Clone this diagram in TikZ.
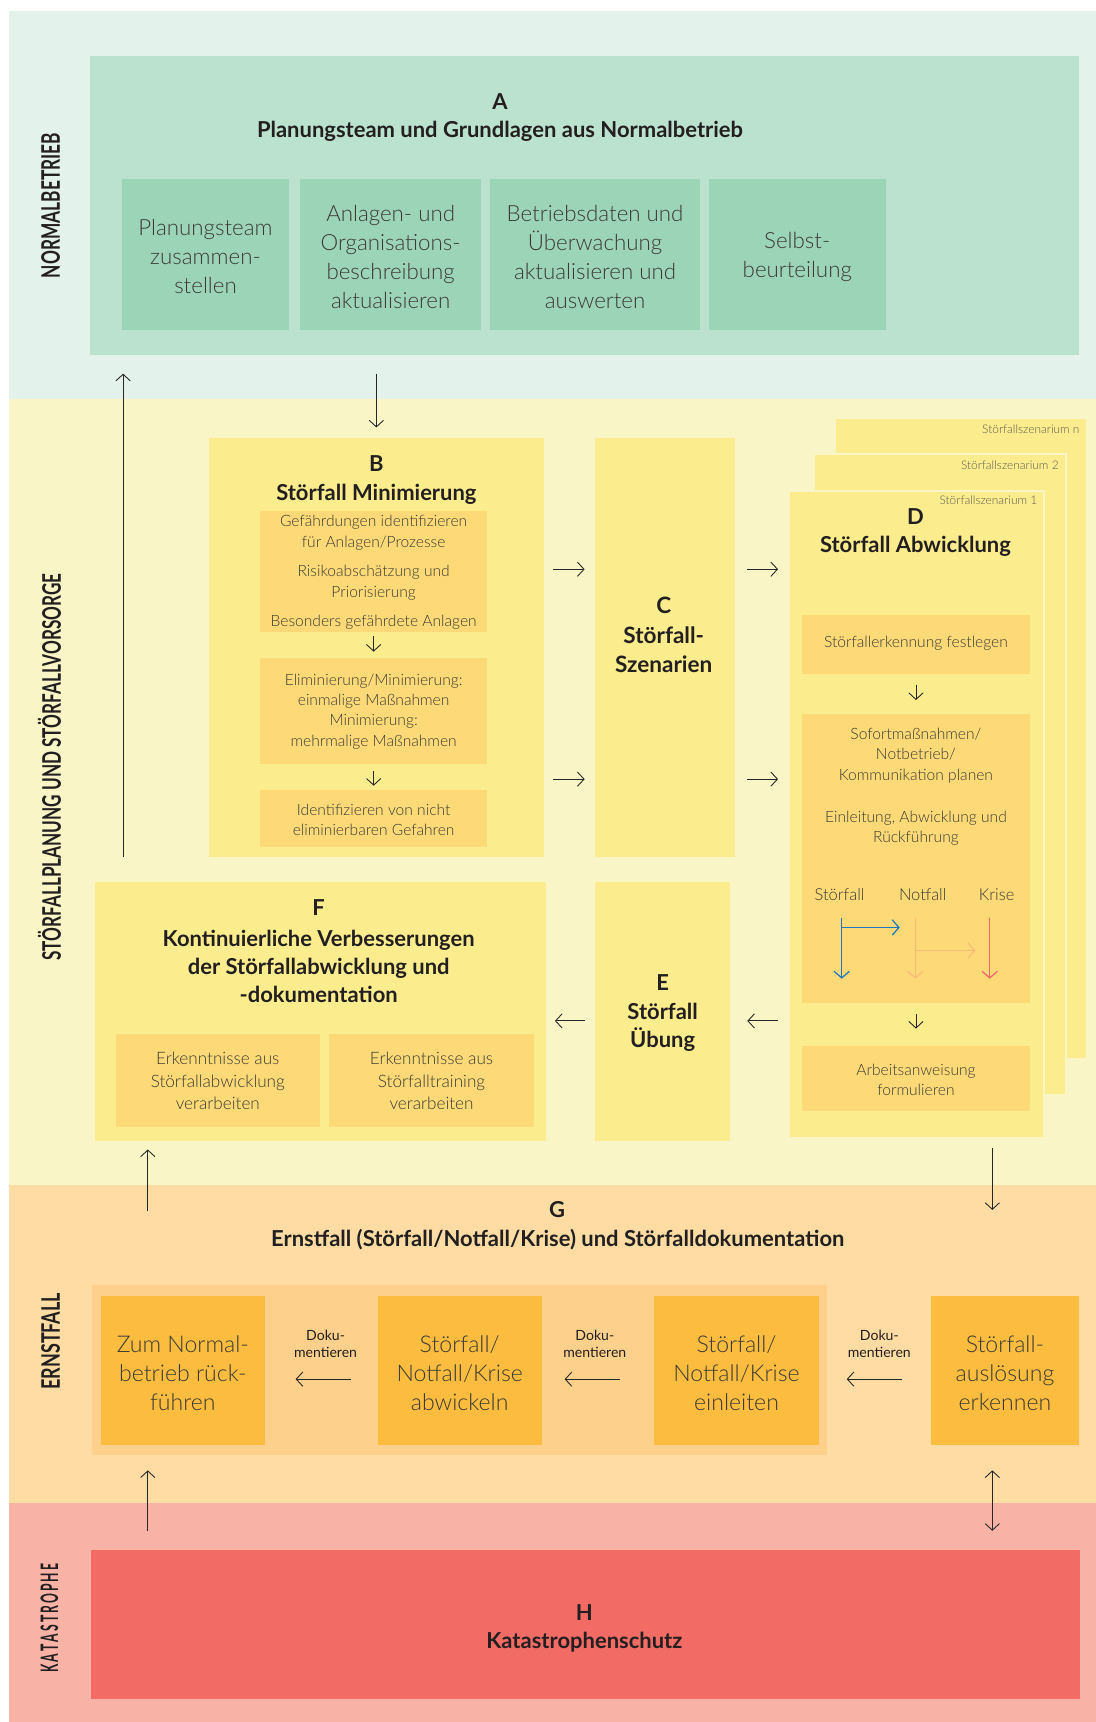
\documentclass[tikz,border=0pt]{standalone}
\usepackage{graphicx}
\usepackage{fontspec}
\IfFontExistsTF{Lato Light}{\setmainfont{Lato}[UprightFont={* Light},BoldFont={* Bold}]}{\setmainfont{Lato}}
\newfontfamily\latoreg{Lato}
\usetikzlibrary{arrows.meta,calc}
\definecolor{bgA}{HTML}{E3F2EA}
\definecolor{boxA}{HTML}{BBE2CE}
\definecolor{subA}{HTML}{9CD4B8}
\definecolor{bgB}{HTML}{FAF5C6}
\definecolor{boxB}{HTML}{FBEC8E}
\definecolor{subB}{HTML}{FDD977}
\definecolor{bgG}{HTML}{FEDCA3}
\definecolor{grpG}{HTML}{FDD18B}
\definecolor{boxG}{HTML}{FCBC40}
\definecolor{bgH}{HTML}{F9B2A6}
\definecolor{boxH}{HTML}{F26B65}
\definecolor{txt}{HTML}{3C3A33}
\definecolor{ttl}{HTML}{231F20}
\definecolor{scen}{HTML}{5E5B4E}
\definecolor{arBlue}{HTML}{1F77BF}
\definecolor{arOrange}{HTML}{FDB978}
\definecolor{arRed}{HTML}{F0666C}
\newcommand{\mkbox}[6]{\node[rbox,#6,minimum width={#4-#2},minimum height={#5-#3}] (#1) at ({(#2+#4)/2},{(#3+#5)/2}) {};}
\tikzset{
  rbox/.style={inner sep=0pt,outer sep=0pt,draw=none,rectangle},
  ttlf/.style={text=ttl,align=center,inner sep=0pt,font=\fontsize{20}{26}\selectfont\bfseries},
  side/.style={text=ttl,inner sep=0pt,rotate=90},
  tA/.style={text=txt,align=center,inner sep=0pt,font=\fontsize{20.3}{26.4}\selectfont},
  tB/.style={text=txt,align=center,inner sep=0pt,font=\fontsize{14.2}{18.5}\selectfont},
  tF/.style={text=txt,align=center,inner sep=0pt,font=\fontsize{15.6}{20.5}\selectfont},
  tDoku/.style={text=ttl,align=center,inner sep=0pt,font=\latoreg\fontsize{12.8}{15}\selectfont},
  tScen/.style={text=scen,inner sep=0pt,anchor=east,font=\fontsize{10.8}{12}\selectfont},
  arr/.style={draw=black!85,line width=0.8pt,-{Straight Barb[length=6pt,width=13pt,line width=0.8pt]}},
  darr/.style={draw=black!85,line width=0.8pt,{Straight Barb[length=6pt,width=13pt,line width=0.8pt]}-{Straight Barb[length=6pt,width=13pt,line width=0.8pt]}},
  carr/.style={line width=1.1pt,-{Straight Barb[length=6pt,width=14pt,line width=1.1pt]}},
  card/.style={rbox,fill=boxB,draw=bgB,line width=1.4pt}
}
\begin{document}
\begin{tikzpicture}[x=1pt,y=-1pt]
\useasboundingbox (0,0) rectangle (997,1567);
% bands
\fill[bgA] (8,10) rectangle (997,363);
\fill[bgB] (8,363) rectangle (997,1078);
\fill[bgG] (8,1078) rectangle (997,1368);
\fill[bgH] (8,1368) rectangle (997,1567);
% side labels
\node[side] (lblN) at (46,187) {\resizebox{132pt}{17pt}{\bfseries NORMALBETRIEB}};
\node[side] (lblV) at (45,698) {\resizebox{352pt}{21pt}{\bfseries STÖRFALLPLANUNG UND STÖRFALLVORSORGE}};
\node[side] (lblE) at (46,1220.5) {\resizebox{88pt}{17pt}{\bfseries ERNSTFALL}};
\node[side] (lblK) at (45,1472.5) {\resizebox{99pt}{16pt}{\bfseries K\,A\,T\,A\,S\,T\,R\,O\,P\,H\,E}};
% A
\mkbox{A}{82}{51}{982}{323}{fill=boxA}
\node[ttlf] (Aletter) at (455,92.5) {A};
\node[ttlf] (Atitle) at (455,119.5) {Planungsteam und Grundlagen aus Normalbetrieb};
\mkbox{A1}{111}{163}{263}{300}{fill=subA}
\mkbox{A2}{273}{163}{438}{300}{fill=subA}
\mkbox{A3}{446}{163}{637}{300}{fill=subA}
\mkbox{A4}{645}{163}{806}{300}{fill=subA}
\node[tA] (A1t) at (187,233.5) {Planungsteam\\zusammen-\\stellen};
\node[tA] (A2t) at (355.5,233.5) {Anlagen- und\\Organisations-\\beschreibung\\aktualisieren};
\node[tA] (A3t) at (541.5,233.5) {Betriebsdaten und\\Überwachung\\aktualisieren und\\auswerten};
\node[tA] (A4t) at (725.5,233.5) {Selbst-\\beurteilung};
% B
\mkbox{B}{190}{399}{495}{780}{fill=boxB}
\node[ttlf] (Bletter) at (342.5,421.5) {B};
\node[ttlf] (Btitle) at (342.5,449.4) {Störfall Minimierung};
\mkbox{B1}{237}{465}{443}{575}{fill=subB}
\mkbox{B2}{237}{599}{443}{695}{fill=subB}
\mkbox{B3}{237}{719}{443}{771}{fill=subB}
\node[tB] (B1t) at (340,521) {Gefährdungen identifizieren\\für Anlagen/Prozesse\\[8.5pt]Risikoabschätzung und\\Priorisierung\\[8.5pt]Besonders gefährdete Anlagen};
\node[tB] (B2t) at (340,647.3) {Eliminierung/Minimierung:\\einmalige Maßnahmen\\Minimierung:\\mehrmalige Maßnahmen};
\node[tB] (B3t) at (340,746.3) {Identifizieren von nicht\\eliminierbaren Gefahren};
% C
\mkbox{C}{541}{399}{669}{780}{fill=boxB}
\node[ttlf,font=\fontsize{20.5}{27}\selectfont\bfseries] (Ct) at (604,578) {C\\Störfall-\\Szenarien};
% D cards
\mkbox{Dn}{760}{381}{989}{963}{card}
\mkbox{D2c}{741}{413}{970}{996}{card}
\mkbox{D}{718}{447}{950}{1035}{card}
\node[tScen] (scn) at (982.5,391) {Störfallszenarium n};
\node[tScen] (sc2) at (963.5,423.6) {Störfallszenarium 2};
\node[tScen] (sc1) at (944,455.5) {Störfallszenarium 1};
\node[ttlf] (Dletter) at (833,470) {D};
\node[ttlf] (Dtitle) at (833,497) {Störfall Abwicklung};
\mkbox{D1}{730}{560}{937}{613}{fill=subB}
\mkbox{D2}{730}{649.5}{937}{913}{fill=subB}
\mkbox{D3}{730}{951.5}{937}{1011}{fill=subB}
\node[tB] (D1t) at (833.5,585) {Störfallerkennung festlegen};
\node[tB] (D2a) at (833.5,687.6) {Sofortmaßnahmen/\\Notbetrieb/\\Kommunikation planen};
\node[tB] (D2b) at (833.5,754) {Einleitung, Abwicklung und\\Rückführung};
\node[tB,font=\fontsize{15}{18}\selectfont] (lS) at (764,814.2) {Störfall};
\node[tB,font=\fontsize{15}{18}\selectfont] (lN) at (839.7,814.2) {Notfall};
\node[tB,font=\fontsize{15}{18}\selectfont] (lK) at (907,814.2) {Krise};
\node[tB] (D3t) at (833.5,982.5) {Arbeitsanweisung\\formulieren};
% coloured arrows
\coordinate (bl0) at (766,835); \coordinate (bl1) at (766,890.6);
\coordinate (bl2) at (766,844); \coordinate (bl3) at (818.7,844);
\coordinate (or0) at (833,835); \coordinate (or1) at (833,890.6);
\coordinate (or2) at (833,865); \coordinate (or3) at (887.5,865);
\coordinate (re0) at (900.6,835); \coordinate (re1) at (900.6,890.6);
\draw[carr,arBlue] (bl0) -- (bl1);
\draw[carr,arBlue] (bl2) -- (bl3);
\draw[carr,arOrange] (or0) -- (or1);
\draw[carr,arOrange] (or2) -- (or3);
\draw[carr,arRed] (re0) -- (re1);
% E
\mkbox{E}{541}{803}{664}{1038}{fill=boxB}
\node[ttlf] (Et) at (603,922) {E\\Störfall\\Übung};
% F
\mkbox{F}{86}{803}{497}{1038}{fill=boxB}
\node[ttlf] (Fletter) at (290,826.3) {F};
\node[ttlf,font=\fontsize{20}{25.5}\selectfont\bfseries] (Ftitle) at (290,879.6) {Kontinuierliche Verbesserungen\\der Störfallabwicklung und\\-dokumentation};
\mkbox{F1}{105.6}{940.6}{290.8}{1025.8}{fill=subB}
\mkbox{F2}{299.2}{940.6}{486.3}{1025.8}{fill=subB}
\node[tF] (F1t) at (198.2,983.8) {Erkenntnisse aus\\Störfallabwicklung\\verarbeiten};
\node[tF] (F2t) at (392.7,983.8) {Erkenntnisse aus\\Störfalltraining\\verarbeiten};
% G
\node[ttlf] (Gletter) at (507,1101) {G};
\node[ttlf] (Gtitle) at (507.5,1128) {Ernstfall (Störfall/Notfall/Krise) und Störfalldokumentation};
\mkbox{Ggrp}{84}{1169}{753}{1323.6}{fill=grpG}
\mkbox{G1}{92}{1179}{240.7}{1314.5}{fill=boxG}
\mkbox{G2}{343.7}{1179}{492.8}{1314.5}{fill=boxG}
\mkbox{G3}{595.4}{1179}{745}{1314.5}{fill=boxG}
\mkbox{G4}{847.6}{1179}{981.5}{1314.5}{fill=boxG}
\node[tA,font=\fontsize{21}{26.4}\selectfont] (G1t) at (166.4,1249.3) {Zum Normal-\\betrieb rück-\\führen};
\node[tA,font=\fontsize{21}{26.4}\selectfont] (G2t) at (418.3,1249.3) {Störfall/\\Notfall/Krise\\abwickeln};
\node[tA,font=\fontsize{21}{26.4}\selectfont] (G3t) at (670.2,1249.3) {Störfall/\\Notfall/Krise\\einleiten};
\node[tA,font=\fontsize{21}{26.4}\selectfont] (G4t) at (914.5,1249.3) {Störfall-\\auslösung\\erkennen};
\node[tDoku] (dk1) at (296.3,1222.8) {Doku-\\mentieren};
\node[tDoku] (dk2) at (541.3,1222.8) {Doku-\\mentieren};
\node[tDoku] (dk3) at (800.2,1222.8) {Doku-\\mentieren};
% H
\mkbox{H}{82.7}{1410.6}{982.8}{1546.5}{fill=boxH}
\node[ttlf] (Hletter) at (531.8,1467) {H};
\node[ttlf] (Htitle) at (531.8,1494.3) {Katastrophenschutz};
% helper coordinates
\coordinate (colL) at (112,0);
\coordinate (colL2) at (134.5,0);
\coordinate (colR) at (903,0);
\coordinate (r1) at (0,518);
\coordinate (r2) at (0,709);
\coordinate (r3) at (0,929);
\coordinate (rdoc) at (0,1255);
% connectors
\draw[arr,shorten <=17pt,shorten >=10pt] (A.south -| B.north) -- (B.north);
\draw[arr,shorten <=23pt,shorten >=17pt] (F.north -| colL) -- (A.south -| colL);
\draw[arr,shorten <=4pt,shorten >=6pt] (B1.south) -- (B2.north);
\draw[arr,shorten <=7pt,shorten >=4pt] (B2.south) -- (B3.north);
\draw[arr,shorten <=8pt,shorten >=9pt] (B.east |- r1) -- (C.west |- r1);
\draw[arr,shorten <=8pt,shorten >=9pt] (B.east |- r2) -- (C.west |- r2);
\draw[arr,shorten <=11pt,shorten >=10pt] (C.east |- r1) -- (D.west |- r1);
\draw[arr,shorten <=11pt,shorten >=10pt] (C.east |- r2) -- (D.west |- r2);
\draw[arr,shorten <=10pt,shorten >=12.5pt] (D1.south) -- (D2.north);
\draw[arr,shorten <=10pt,shorten >=15.5pt] (D2.south) -- (D3.north);
\draw[arr,shorten <=10pt,shorten >=16pt] (D.west |- r3) -- (E.east |- r3);
\draw[arr,shorten <=9pt,shorten >=8pt] (E.west |- r3) -- (F.east |- r3);
\draw[arr,shorten <=10pt,shorten >=78pt] (D.south -| colR) -- (G4.north -| colR);
\draw[arr,shorten <=77pt,shorten >=8pt] (G1.north -| colL2) -- (F.south -| colL2);
\draw[arr,shorten <=24.7pt,shorten >=28.3pt] (G2.west |- rdoc) -- (G1.east |- rdoc);
\draw[arr,shorten <=31pt,shorten >=21pt] (G3.west |- rdoc) -- (G2.east |- rdoc);
\draw[arr,shorten <=26.6pt,shorten >=25.5pt] (G4.west |- rdoc) -- (G3.east |- rdoc);
\draw[arr,shorten <=17.6pt,shorten >=23.5pt] (H.north -| colL2) -- (G1.south -| colL2);
\draw[darr,shorten <=23.5pt,shorten >=17.6pt] (G4.south -| colR) -- (H.north -| colR);
\end{tikzpicture}
\end{document}
